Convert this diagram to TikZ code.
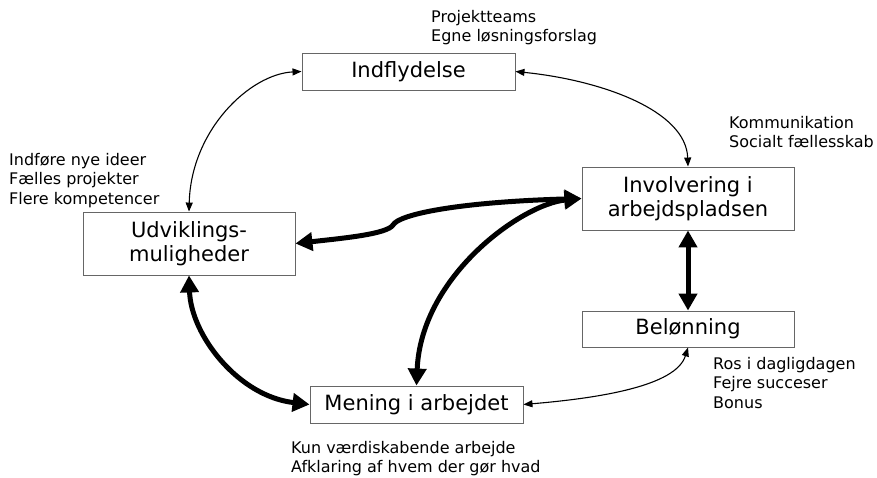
\documentclass[tikz,border=0pt]{standalone}
\usepackage{fontspec}
\setmainfont{DejaVu Sans}
\usetikzlibrary{arrows.meta}
\begin{document}
\begin{tikzpicture}[x=1pt,y=-1pt,
  box/.style={draw=black!60, line width=0.9pt, fill=white, inner sep=0pt,
    align=center, font=\fontsize{21}{24.5}\selectfont},
  note/.style={inner sep=0pt, align=left, anchor=north west,
    font=\fontsize{16}{19.5}\selectfont},
  thinlink/.style={line width=1.1pt,
    {Triangle[length=9pt,width=7pt]}-{Triangle[length=9pt,width=7pt]}},
  boldlink/.style={line width=5pt,
    {Triangle[length=17pt,width=18pt]}-{Triangle[length=17pt,width=18pt]}}]

% canvas
\path[use as bounding box, fill=white] (0,0) rectangle (877,478);

% main boxes
\node[box, minimum width=213pt, minimum height=37pt] (ind) at (408.5,71.5) {Indflydelse};
\node[box, minimum width=212pt, minimum height=63pt] (inv) at (688,198.5) {Involvering i\\arbejdspladsen};
\node[box, minimum width=212pt, minimum height=63pt] (udv) at (189,243.5) {Udviklings-\\muligheder};
\node[box, minimum width=212pt, minimum height=36pt] (bel) at (688,329) {Belønning};
\node[box, minimum width=213pt, minimum height=37pt] (men) at (416.5,404.5) {Mening i arbejdet};

% thin links
\draw[thinlink] (udv.north) .. controls (191,130) and (250,74) .. (ind.west);
\draw[thinlink] (ind.east) .. controls (600,80) and (686,110) .. (inv.north);
\draw[thinlink] (men.east) .. controls (600,398) and (676,386) .. (bel.south);

% bold links
\draw[boldlink] (udv.east) .. controls (345,238) and (387,234) .. (393,225)
  .. controls (399,214) and (460,202) .. (inv.west);
\draw[boldlink] (inv.west) .. controls (522,204) and (421,276) .. (men.north);
\draw[boldlink] (udv.south) .. controls (191,335) and (238,396) .. (men.west);
\draw[boldlink] (inv.south) -- (bel.north);

% annotations
\node[note] (n1) at (431,10) {Projektteams\\Egne løsningsforslag};
\node[note] (n2) at (729,116) {Kommunikation\\Socialt fællesskab};
\node[note] (n3) at (9,153) {Indføre nye ideer\\Fælles projekter\\Flere kompetencer};
\node[note] (n4) at (713,357) {Ros i dagligdagen\\Fejre succeser\\Bonus};
\node[note] (n5) at (291,441) {Kun værdiskabende arbejde\\Afklaring af hvem der gør hvad};
\end{tikzpicture}
\end{document}
